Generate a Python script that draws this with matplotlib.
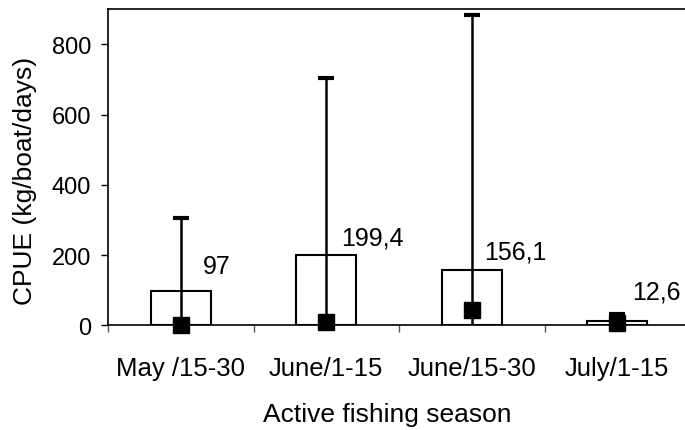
import numpy as np
import matplotlib
matplotlib.use("Agg")
import matplotlib.pyplot as plt

# data
seasons = ["May /15-30", "June/1-15", "June/15-30", "July/1-15"]
mean_cpue = [97, 199.4, 156.1, 12.6]
max_cpue = [305, 705, 883, 32]
median_cpue = [2, 8, 43, 6]
value_labels = ["97", "199,4", "156,1", "12,6"]

# label offsets in points from the top of each bar
label_dx = [16, 11, 9, 11]
label_dy = [18, 13, 13.5, 21.5]

plt.rcParams['font.family'] = ['Liberation Sans', 'DejaVu Sans']

fig = plt.figure(figsize=(6.85, 4.31), dpi=100)
ax = fig.add_axes([108 / 685, 1 - 326.3 / 431, 582 / 685, 316 / 431])

x = np.arange(len(seasons))

# open bars for the mean
ax.bar(x, mean_cpue, width=0.41, facecolor='white', edgecolor='black', linewidth=1.5, zorder=2)

# range line from zero up to the max, with a thick cap
ax.vlines(x, 0, max_cpue, color='black', linewidth=1.8, zorder=3)
ax.plot(x, max_cpue, linestyle='none', marker='_', markersize=11, markeredgewidth=3,
        color='black', zorder=4, clip_on=False)

# black squares for the median
ax.plot(x, median_cpue, linestyle='none', marker='s', markersize=11, color='black',
        zorder=5, clip_on=False)

# value labels
for i in range(len(seasons)):
    ax.annotate(value_labels[i], xy=(x[i], mean_cpue[i]), xytext=(label_dx[i], label_dy[i]),
                textcoords='offset points', ha='left', va='center', fontsize=18)

ax.set_xlim(-0.5, 3.5)
ax.set_ylim(0, 900)
ax.set_yticks([0, 200, 400, 600, 800])

# category labels centred, tick marks between categories
ax.set_xticks(x)
ax.set_xticklabels(seasons)
ax.set_xticks(np.arange(-0.5, 3.6, 1), minor=True)
ax.tick_params(axis='x', which='major', length=0, pad=22, labelsize=18.5)
ax.tick_params(axis='x', which='minor', length=5, width=1, color='#555555', direction='out')
ax.tick_params(axis='y', which='major', length=5, width=1, direction='out', pad=7, labelsize=17)

for side in ['left', 'top', 'bottom']:
    ax.spines[side].set_linewidth(1.2)
ax.spines['right'].set_visible(False)

ax.set_ylabel("CPUE (kg/boat/days)", fontsize=19)
ax.yaxis.set_label_coords(-0.122, 0.46)
ax.set_xlabel("Active fishing season", fontsize=19)
ax.xaxis.set_label_coords(0.479, -0.243)

fig.savefig("out.png", dpi=100)
